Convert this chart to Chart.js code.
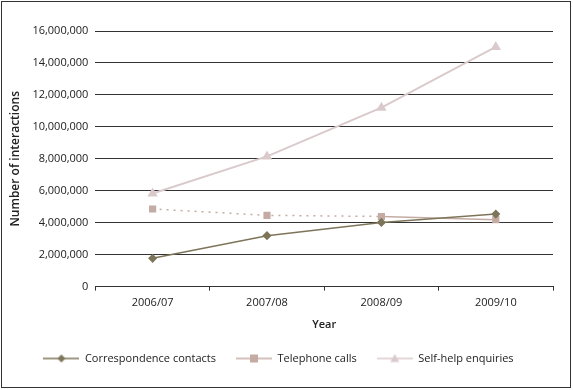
<!DOCTYPE html>
<html>
<head>
<meta charset="utf-8">
<script src="https://cdn.jsdelivr.net/npm/chart.js@4.4.1/dist/chart.umd.min.js"></script>
<style>
  html, body { margin: 0; padding: 0; background: #fff; }
  #wrap { position: absolute; left: 1px; top: 1px; width: 568px; height: 385px; border: 1px solid #333; }
</style>
</head>
<body>
<div id="wrap"><canvas id="interactionsChart"></canvas></div>
<script>
    // Chart data
    const years = ["2006/07", "2007/08", "2008/09", "2009/10"];
    const correspondenceContacts = [1770000, 3190000, 4020000, 4540000];
    const telephoneCalls = [4860000, 4460000, 4390000, 4190000];
    const selfHelpEnquiries = [5830000, 8150000, 11200000, 15000000];

    const fontFamily = "'Open Sans', sans-serif";

    // Small legend swatch: line with the marker in the middle
    function legendSwatch(color, style, lineWidth) {
        const c = document.createElement("canvas");
        c.width = 36;
        c.height = 12;
        const g = c.getContext("2d");
        g.strokeStyle = color;
        g.lineWidth = lineWidth;
        g.beginPath();
        g.moveTo(0, 6);
        g.lineTo(36, 6);
        g.stroke();
        g.fillStyle = color;
        g.beginPath();
        if (style === "rectRot") {
            g.moveTo(18, 2); g.lineTo(22, 6); g.lineTo(18, 10); g.lineTo(14, 6);
        } else if (style === "rect") {
            g.rect(14, 2, 8, 8);
        } else {
            g.moveTo(18, 1.5); g.lineTo(22.5, 9.5); g.lineTo(13.5, 9.5);
        }
        g.closePath();
        g.fill();
        return c;
    }

    const corrColor = "rgb(125, 117, 90)";
    const phoneColor = "rgb(196, 172, 164)";
    const selfColor = "rgb(218, 202, 204)";

    const ctx = document.getElementById("interactionsChart").getContext("2d");

    const chart = new Chart(ctx, {
        type: "line",
        data: {
            labels: years,
            datasets: [
                {
                    label: "Correspondence contacts",
                    data: correspondenceContacts,
                    borderColor: corrColor,
                    backgroundColor: corrColor,
                    borderWidth: 1.5,
                    pointStyle: "rectRot",
                    pointRadius: 3.5,
                    swatch: legendSwatch(corrColor, "rectRot", 1.5),
                },
                {
                    label: "Telephone calls",
                    data: telephoneCalls,
                    borderColor: phoneColor,
                    backgroundColor: phoneColor,
                    borderWidth: 1.5,
                    pointStyle: "rect",
                    pointRadius: 4,
                    segment: {
                        borderDash: (c) => (c.p0DataIndex < 2 ? [2, 5] : undefined),
                    },
                    swatch: legendSwatch(phoneColor, "rect", 1.5),
                },
                {
                    label: "Self-help enquiries",
                    data: selfHelpEnquiries,
                    borderColor: selfColor,
                    backgroundColor: selfColor,
                    borderWidth: 2,
                    pointStyle: "triangle",
                    pointRadius: 4,
                    swatch: legendSwatch(selfColor, "triangle", 1.5),
                },
            ],
        },
        options: {
            responsive: true,
            maintainAspectRatio: false,
            animation: false,
            layout: {
                padding: { top: 29, right: 17, left: 2, bottom: 13 },
            },
            plugins: {
                legend: {
                    position: "bottom",
                    labels: {
                        usePointStyle: true,
                        pointStyleWidth: 36,
                        padding: 20,
                        color: "#222",
                        font: { family: fontFamily, size: 11 },
                        generateLabels: (ch) =>
                            ch.data.datasets.map((ds, i) => ({
                                text: ds.label,
                                pointStyle: ds.swatch,
                                fillStyle: ds.borderColor,
                                strokeStyle: ds.borderColor,
                                lineWidth: 0,
                                fontColor: "#222",
                                datasetIndex: i,
                            })),
                    },
                },
                title: { display: false },
                tooltip: { enabled: false },
            },
            scales: {
                x: {
                    offset: true,
                    title: {
                        display: true,
                        text: "Year",
                        color: "#222",
                        font: { family: fontFamily, size: 11, weight: "600" },
                        padding: { top: 2, bottom: 2 },
                    },
                    ticks: {
                        color: "#222",
                        padding: 6,
                        font: { family: fontFamily, size: 11 },
                    },
                    grid: {
                        offset: true,
                        drawOnChartArea: false,
                        drawTicks: true,
                        tickLength: 4,
                        color: "#333",
                    },
                    border: { color: "#333", width: 1 },
                },
                y: {
                    min: 0,
                    max: 16000000,
                    title: {
                        display: true,
                        text: "Number of interactions",
                        color: "#222",
                        font: { family: fontFamily, size: 12, weight: "600" },
                        padding: { top: 4, bottom: 3 },
                    },
                    ticks: {
                        stepSize: 2000000,
                        padding: 7,
                        color: "#222",
                        font: { family: fontFamily, size: 11 },
                        callback: (v) => v.toLocaleString("en-US"),
                    },
                    grid: {
                        color: "#333",
                        drawTicks: false,
                    },
                    border: { display: false },
                },
            },
        },
    });
</script>
</body>
</html>
